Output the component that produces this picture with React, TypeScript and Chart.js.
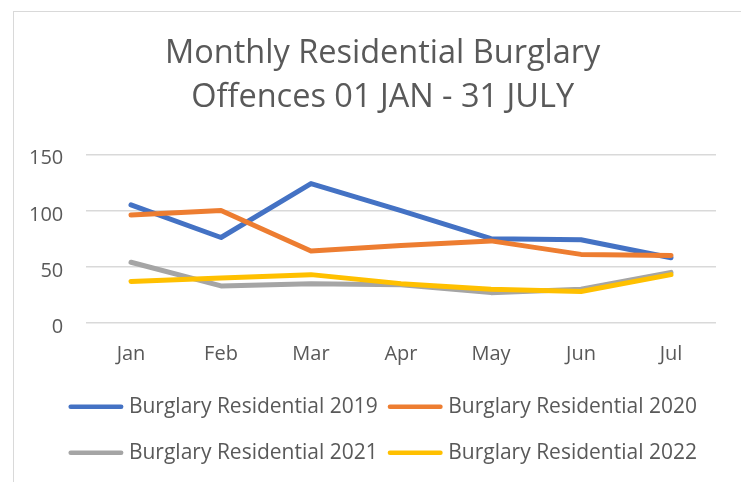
import React, { useEffect, useRef } from "react";
import { Chart, registerables } from "chart.js";

Chart.register(...registerables);

const categories = ["Jan", "Feb", "Mar", "Apr", "May", "Jun", "Jul"];
const burglary2019 = [105, 76, 124, 100, 75, 74, 58];
const burglary2020 = [96, 100, 64, 69, 73, 61, 60];
const burglary2021 = [54, 33, 35, 34, 27, 30, 45];
const burglary2022 = [37, 40, 43, 35, 30, 28, 43];
const seriesNames = [
  "Burglary Residential 2019",
  "Burglary Residential 2020",
  "Burglary Residential 2021",
  "Burglary Residential 2022",
];
const seriesColors = ["#4472C4", "#ED7D31", "#A5A5A5", "#FFC000"];
const titleLines = ["Monthly Residential Burglary", "Offences 01 JAN - 31 JULY"];
const yMin = 0;
const yMax = 150;
const yStep = 50;

const TEXT = "#595959";
const FONT = "'Open Sans'";

const legendLines = {
  id: "legendLines",
  afterDraw(chart: any) {
    const lg = chart.legend;
    if (!lg || !lg.legendHitBoxes) return;
    const ctx = chart.ctx;
    lg.legendItems.forEach((item: any, i: number) => {
      const hb = lg.legendHitBoxes[i];
      if (!hb) return;
      const ds = chart.data.datasets[item.datasetIndex];
      const cy = hb.top + hb.height / 2;
      ctx.save();
      ctx.strokeStyle = ds.borderColor;
      ctx.lineWidth = 4.5;
      ctx.lineCap = "round";
      ctx.beginPath();
      ctx.moveTo(hb.left + 2.25, cy);
      ctx.lineTo(hb.left + 52.75, cy);
      ctx.stroke();
      ctx.restore();
    });
  },
};

export default function App() {
  const ref = useRef<HTMLCanvasElement | null>(null);

  useEffect(() => {
    if (!ref.current) return;
    const series = [burglary2019, burglary2020, burglary2021, burglary2022];
    const chart = new Chart(ref.current, {
      type: "line",
      data: {
        labels: categories,
        datasets: series.map((d, i) => ({
          label: seriesNames[i],
          data: d,
          borderColor: seriesColors[i],
          backgroundColor: seriesColors[i],
          borderWidth: 5,
          borderCapStyle: "round",
          borderJoinStyle: "round",
          pointRadius: 0,
          pointHoverRadius: 0,
          tension: 0,
          fill: false,
          order: series.length - 1 - i,
        })),
      },
      options: {
        responsive: false,
        devicePixelRatio: 1,
        animation: false,
        events: [],
        layout: { padding: { left: 49.4, right: 25, top: 0, bottom: 1.3 } },
        plugins: {
          tooltip: { enabled: false },
          title: {
            display: true,
            text: titleLines,
            color: TEXT,
            font: { family: FONT, size: 32.5, weight: "normal", lineHeight: 1.332 },
            padding: { top: 32.5, bottom: 35.2 },
          },
          legend: {
            display: true,
            position: "bottom",
            align: "center",
            labels: {
              boxWidth: 50,
              boxHeight: 36,
              padding: 10,
              color: TEXT,
              font: { family: FONT, size: 21 },
              sort: (a: any, b: any) => a.datasetIndex - b.datasetIndex,
              generateLabels: (chart: any) => {
                const items = Chart.defaults.plugins.legend.labels.generateLabels(chart);
                return items.map((it: any) => ({
                  ...it,
                  fillStyle: "rgba(0,0,0,0)",
                  strokeStyle: "rgba(0,0,0,0)",
                  lineWidth: 0,
                }));
              },
            },
          },
        },
        scales: {
          x: {
            type: "category",
            offset: true,
            grid: { display: false, drawTicks: false },
            border: { display: false },
            ticks: {
              color: TEXT,
              font: { family: FONT, size: 20 },
              padding: 19,
              maxRotation: 0,
            },
            afterFit: (scale: any) => {
              scale.height = 55.7;
            },
          },
          y: {
            min: yMin,
            max: yMax,
            grid: { color: "#d9d9d9", lineWidth: 1.5, drawTicks: false },
            border: { display: false },
            ticks: {
              stepSize: yStep,
              color: TEXT,
              font: { family: FONT, size: 20 },
              mirror: true,
              crossAlign: "far",
              padding: -57,
              labelOffset: 4.5,
            },
            afterFit: (scale: any) => {
              scale.width = 36.6;
            },
          },
        },
      },
      plugins: [legendLines],
    } as any);
    return () => chart.destroy();
  }, []);

  return (
    <div
      style={{
        position: "fixed",
        left: 0,
        top: 0,
        width: 741,
        height: 482,
        overflow: "hidden",
        background: "#ffffff",
      }}
    >
      <div
        style={{
          position: "absolute",
          left: 13,
          top: 11,
          width: 900,
          height: 700,
          border: "1px solid #d9d9d9",
          boxSizing: "border-box",
        }}
      />
      <canvas
        ref={ref}
        width={741}
        height={482}
        style={{ position: "absolute", left: 0, top: 0, width: 741, height: 482, display: "block" }}
      />
    </div>
  );
}
